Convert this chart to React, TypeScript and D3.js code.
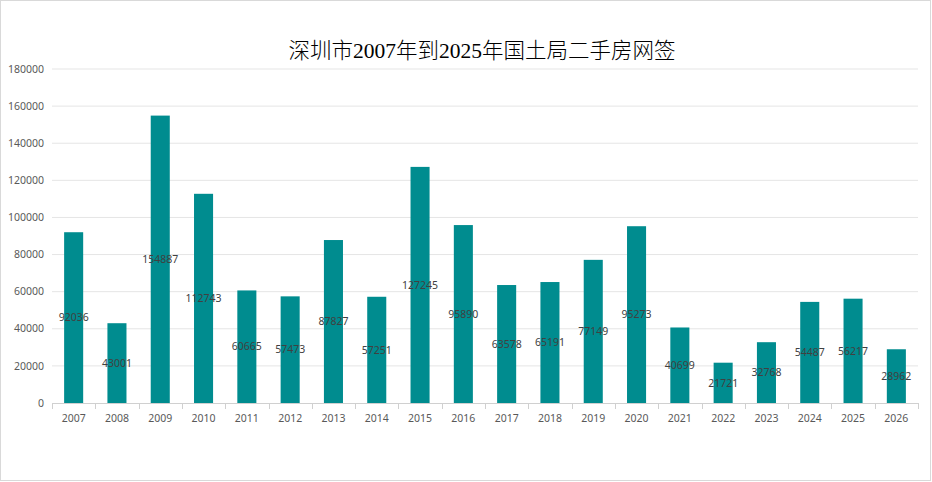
// App.tsx
import * as d3 from "d3";
import { useEffect, useRef } from "react";

const years = [
  "2007", "2008", "2009", "2010", "2011", "2012", "2013", "2014", "2015", "2016",
  "2017", "2018", "2019", "2020", "2021", "2022", "2023", "2024", "2025", "2026",
];
const deals = [
  92036, 43001, 154887, 112743, 60665, 57473, 87827, 57251, 127245, 95890,
  63578, 65191, 77149, 95273, 40699, 21721, 32768, 54487, 56217, 28962,
];
const yTicks = [0, 20000, 40000, 60000, 80000, 100000, 120000, 140000, 160000, 180000];
const title = "深圳市2007年到2025年国土局二手房网签";

export default function App() {
  const ref = useRef<SVGSVGElement | null>(null);

  useEffect(() => {
    const svg = d3.select(ref.current);
    svg.selectAll("*").remove();

    const W = 932;
    const H = 482;
    const margin = { top: 69, right: 14, bottom: 79, left: 52 };
    const font = "'Noto Sans', 'Noto Sans CJK SC', sans-serif";

    svg.attr("width", W).attr("height", H);

    // outer frame
    svg.append("rect")
      .attr("x", 0.5).attr("y", 0.5)
      .attr("width", 930).attr("height", 480)
      .attr("fill", "#fff")
      .attr("stroke", "#d9d9d9");

    const x = d3.scaleBand<string>()
      .domain(years)
      .range([margin.left, W - margin.right])
      .paddingInner(0.56)
      .paddingOuter(0.28);

    const y = d3.scaleLinear()
      .domain([0, 180000])
      .range([H - margin.bottom, margin.top]);

    // grid + y labels
    const grid = svg.append("g");
    yTicks.forEach((t) => {
      if (t > 0) {
        grid.append("line")
          .attr("x1", margin.left).attr("x2", W - margin.right)
          .attr("y1", y(t)).attr("y2", y(t))
          .attr("stroke", "#e5e5e5");
      }
      grid.append("text")
        .attr("x", 44).attr("y", y(t))
        .attr("dy", "0.35em")
        .attr("text-anchor", "end")
        .attr("fill", "#595959")
        .style("font-family", font)
        .style("font-size", "10.5px")
        .text(t);
    });

    // bars
    svg.append("g")
      .selectAll("rect")
      .data(years)
      .join("rect")
      .attr("x", (d) => x(d)!)
      .attr("y", (_, i) => y(deals[i]))
      .attr("width", x.bandwidth())
      .attr("height", (_, i) => y(0) - y(deals[i]))
      .attr("fill", "#008c8f");

    // x axis line + ticks at category boundaries
    const axis = svg.append("g");
    axis.append("line")
      .attr("x1", margin.left).attr("x2", W - margin.right)
      .attr("y1", y(0) + 0.5).attr("y2", y(0) + 0.5)
      .attr("stroke", "#d0d0d0");
    const step = x.step();
    d3.range(years.length + 1).forEach((i) => {
      const px = Math.round(margin.left + i * step) + 0.5;
      axis.append("line")
        .attr("x1", px).attr("x2", px)
        .attr("y1", y(0)).attr("y2", y(0) + 6)
        .attr("stroke", "#d0d0d0");
    });
    years.forEach((yr) => {
      axis.append("text")
        .attr("x", x(yr)! + x.bandwidth() / 2)
        .attr("y", y(0) + 19)
        .attr("text-anchor", "middle")
        .attr("fill", "#595959")
        .style("font-family", font)
        .style("font-size", "10.5px")
        .text(yr);
    });

    // data labels at bar middle
    svg.append("g")
      .selectAll("text")
      .data(years)
      .join("text")
      .attr("x", (d) => x(d)! + x.bandwidth() / 2)
      .attr("y", (_, i) => (y(0) + y(deals[i])) / 2)
      .attr("dy", "0.35em")
      .attr("text-anchor", "middle")
      .attr("fill", "#404040")
      .style("font-family", font)
      .style("font-size", "10.5px")
      .text((_, i) => deals[i]);

    // title
    svg.append("text")
      .attr("x", 482).attr("y", 58)
      .attr("text-anchor", "middle")
      .attr("fill", "#000")
      .style("font-family", "'Liberation Serif', 'DejaVu Serif', 'Noto Sans CJK SC', serif")
      .style("font-size", "21.5px")
      .style("font-weight", 300)
      .text(title);
  }, []);

  return (
    <svg
      ref={ref}
      style={{ position: "absolute", left: 0, top: 0, display: "block" }}
    ></svg>
  );
}
